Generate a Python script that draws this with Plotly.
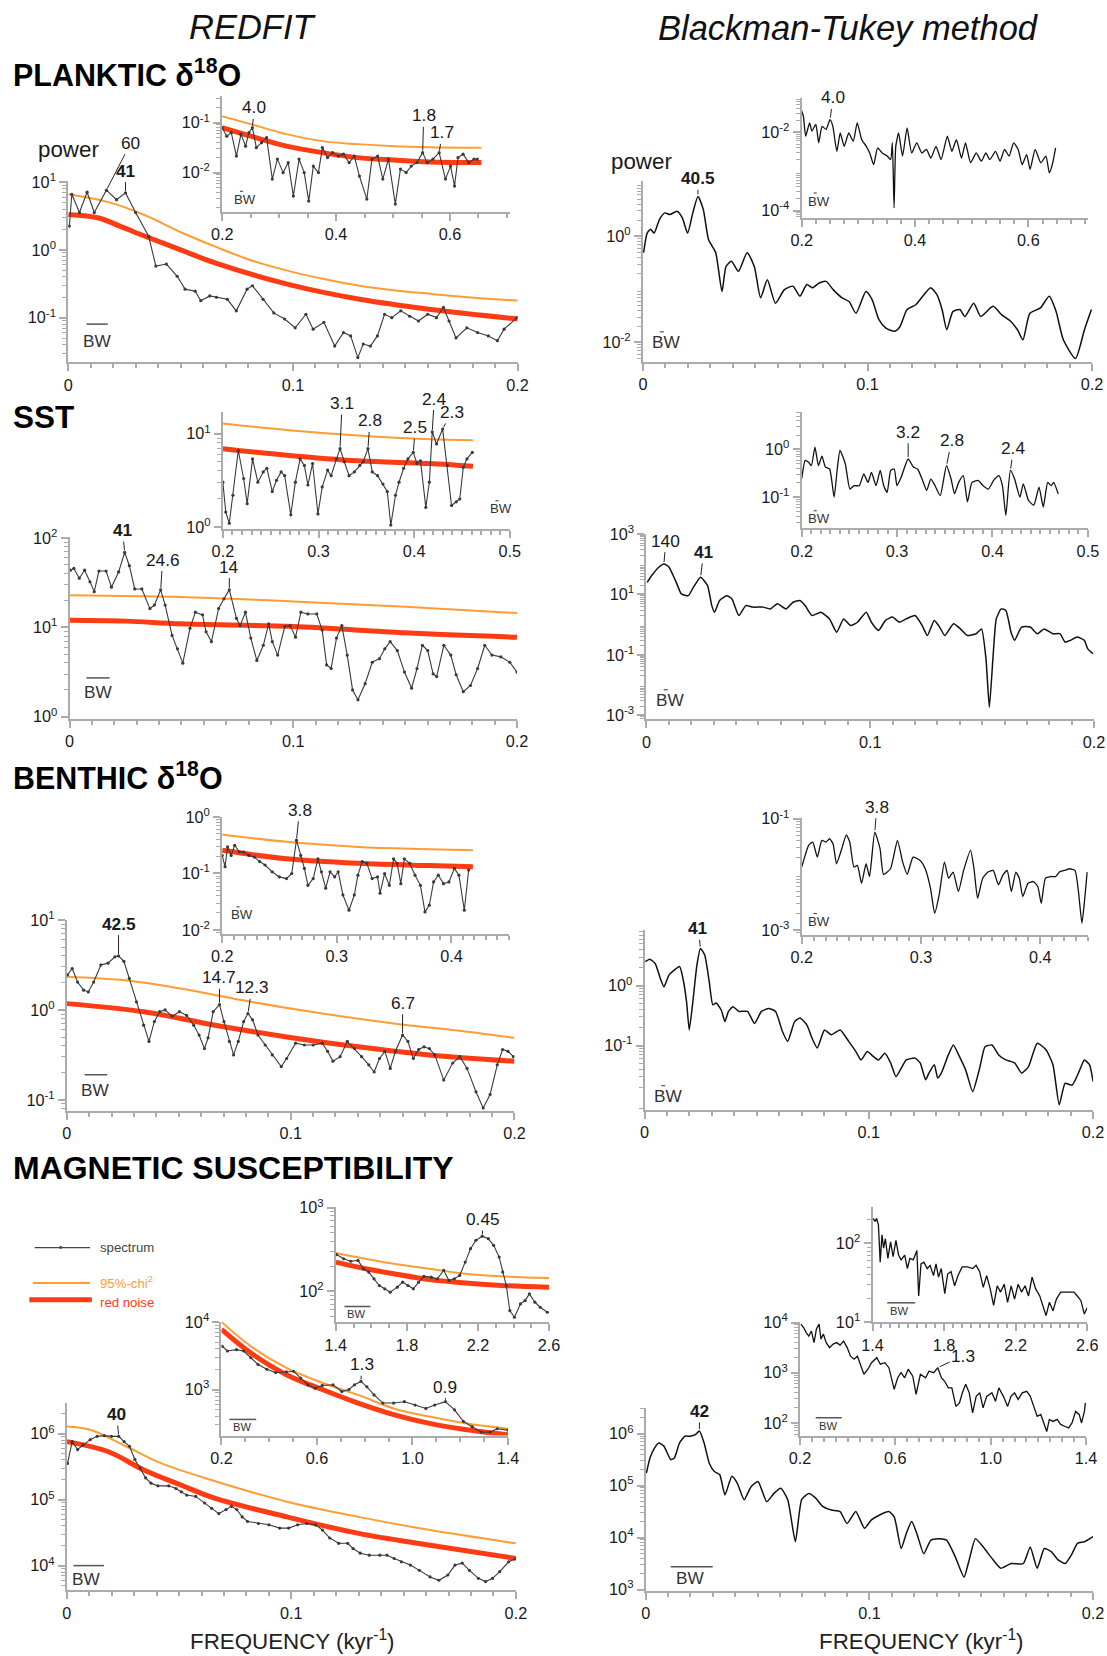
import numpy as np
import plotly.graph_objects as go

# ======================= DATA (frequency in kyr^-1, log10 of power) =======================
# ---- PLANKTIC d18O : REDFIT ----
pl_rf_spec = [(0.0005,0.35),(0.0016,0.82),(0.005,0.55),(0.0084,0.85),(0.0116,0.55),(0.017,0.88),(0.0215,0.74),
              (0.0255,0.84),(0.030,0.55),(0.0358,0.20),(0.039,-0.24),(0.0437,-0.21),(0.0485,-0.39),(0.052,-0.58),
              (0.0565,-0.61),(0.059,-0.75),(0.063,-0.68),(0.066,-0.70),(0.0708,-0.73),(0.0748,-0.90),(0.0796,-0.58),
              (0.082,-0.53),(0.0867,-0.73),(0.0915,-0.93),(0.0963,-1.02),(0.101,-1.15),(0.1058,-0.95),(0.109,-1.17),
              (0.1138,-1.07),(0.1186,-1.42),(0.1225,-1.22),(0.1257,-1.27),(0.1289,-1.59),(0.1313,-1.39),(0.1345,-1.42),
              (0.1376,-1.27),(0.1408,-0.95),(0.144,-1.00),(0.148,-0.90),(0.152,-0.98),(0.1559,-1.05),(0.16,-0.95),
              (0.1639,-1.00),(0.167,-0.85),(0.1695,-1.05),(0.1726,-1.30),(0.1774,-1.15),(0.1822,-1.22),(0.187,-1.27),
              (0.191,-1.34),(0.194,-1.17),(0.1997,-1.00)]
pl_rf_red = [(0.0,0.52),(0.0135,0.47),(0.023,0.35),(0.0342,0.20),(0.05,0.0),(0.066,-0.20),(0.0979,-0.51),
             (0.1297,-0.73),(0.1615,-0.88),(0.2,-1.02)]
pl_rf_chi = [(0.0,0.82),(0.0183,0.70),(0.0342,0.51),(0.0501,0.26),(0.066,0.04),(0.0819,-0.16),(0.0979,-0.31),
             (0.1138,-0.43),(0.1297,-0.53),(0.1456,-0.60),(0.1615,-0.65),(0.1774,-0.70),(0.2,-0.75)]
pl_rf_in_spec = [(0.2,-1.10),(0.208,-1.27),(0.216,-1.2),(0.225,-1.67),(0.233,-1.23),(0.241,-1.47),(0.247,-1.2),
                 (0.253,-1.10),(0.26,-1.5),(0.269,-1.4),(0.278,-1.3),(0.288,-2.13),(0.297,-1.73),(0.307,-2.0),
                 (0.316,-1.8),(0.325,-2.47),(0.335,-1.73),(0.344,-2.0),(0.352,-2.57),(0.36,-1.87),(0.369,-2.0),
                 (0.376,-1.5),(0.385,-1.7),(0.394,-1.6),(0.404,-1.67),(0.413,-1.63),(0.423,-1.8),(0.432,-1.67),
                 (0.441,-2.07),(0.454,-2.53),(0.463,-1.73),(0.473,-1.67),(0.482,-2.13),(0.492,-1.73),(0.504,-2.63),
                 (0.513,-1.93),(0.523,-2.0),(0.532,-1.87),(0.542,-1.8),(0.552,-1.6),(0.56,-1.8),(0.57,-1.73),
                 (0.581,-1.6),(0.592,-2.13),(0.601,-1.87),(0.608,-2.27),(0.614,-1.7),(0.623,-1.63),(0.633,-1.8),
                 (0.642,-1.73),(0.648,-1.73)]
pl_rf_in_red = [(0.2,-1.10),(0.25,-1.27),(0.313,-1.47),(0.376,-1.60),(0.438,-1.70),(0.501,-1.75),(0.564,-1.79),(0.655,-1.80)]
pl_rf_in_chi = [(0.2,-0.87),(0.25,-1.03),(0.313,-1.23),(0.376,-1.37),(0.438,-1.43),(0.501,-1.47),(0.564,-1.49),(0.655,-1.50)]
pl_rf_peaks = [(0.017, "60", False), (0.0255, "41", True)]
pl_rf_in_peaks = [(0.253, "4.0", False), (0.552, "1.8", False), (0.581, "1.7", False)]

# ---- PLANKTIC d18O : Blackman-Tukey ----
pl_bt_spec = [(0.0003,-0.31),(0.0019,0.06),(0.0034,0.13),(0.005,0.06),(0.0073,0.31),(0.0097,0.44),(0.012,0.41),
              (0.0152,0.47),(0.0175,0.35),(0.0199,0.06),(0.0222,0.44),(0.0245,0.75),(0.0269,0.50),(0.0292,-0.06),
              (0.0324,-0.31),(0.0352,-1.04),(0.037,-0.57),(0.0394,-0.47),(0.0425,-0.66),(0.0464,-0.31),(0.0496,-0.57),
              (0.0524,-1.16),(0.0554,-0.82),(0.059,-1.26),(0.0629,-1.01),(0.0668,-0.94),(0.0699,-1.13),(0.073,-0.91),
              (0.0754,-0.97),(0.0785,-0.88),(0.0816,-0.85),(0.0848,-1.01),(0.0887,-1.16),(0.0918,-1.23),(0.0949,-1.45),
              (0.0993,-1.04),(0.102,-1.19),(0.1051,-1.57),(0.1082,-1.73),(0.1121,-1.79),(0.1145,-1.70),(0.1176,-1.38),
              (0.1215,-1.29),(0.1246,-1.13),(0.1281,-0.97),(0.1309,-1.10),(0.1332,-1.38),(0.1353,-1.76),(0.138,-1.42),
              (0.1411,-1.38),(0.1434,-1.51),(0.1473,-1.26),(0.1504,-1.51),(0.1559,-1.32),(0.1598,-1.48),(0.1637,-1.60),
              (0.1668,-1.76),(0.1692,-1.95),(0.1723,-1.45),(0.177,-1.35),(0.1809,-1.13),(0.184,-1.42),(0.1872,-1.95),
              (0.1926,-2.30),(0.1966,-1.76),(0.1997,-1.38)]
pl_bt_in_spec = [(0.2,-1.46),(0.203,-1.59),(0.207,-2.10),(0.214,-1.76),(0.218,-1.97),(0.225,-1.80),(0.23,-2.27),
                 (0.236,-1.85),(0.243,-1.93),(0.25,-1.68),(0.255,-1.85),(0.262,-2.49),(0.268,-2.02),(0.275,-2.36),
                 (0.283,-2.02),(0.291,-2.23),(0.298,-1.76),(0.306,-2.19),(0.314,-2.36),(0.32,-2.53),(0.327,-2.83),
                 (0.334,-2.40),(0.342,-2.53),(0.351,-2.61),(0.357,-2.70),(0.36,-2.27),(0.363,-3.93),(0.366,-2.36),
                 (0.371,-2.02),(0.378,-2.61),(0.386,-1.89),(0.394,-2.53),(0.403,-2.27),(0.412,-2.53),(0.42,-2.44),
                 (0.428,-2.66),(0.437,-2.36),(0.446,-2.70),(0.457,-2.10),(0.465,-2.49),(0.473,-2.19),(0.482,-2.66),
                 (0.489,-2.27),(0.498,-2.78),(0.508,-2.53),(0.517,-2.74),(0.525,-2.53),(0.532,-2.70),(0.542,-2.49),
                 (0.55,-2.74),(0.558,-2.44),(0.566,-2.61),(0.574,-2.27),(0.582,-2.44),(0.589,-2.83),(0.597,-2.57),
                 (0.603,-2.95),(0.612,-2.44),(0.622,-2.78),(0.631,-2.61),(0.637,-3.04),(0.643,-2.78),(0.648,-2.40)]
pl_bt_peaks = [(0.0245, "40.5", True)]
pl_bt_in_peaks = [(0.25, "4.0", False)]

# ---- SST : REDFIT ----
sst_rf_spec = [(0.0003,1.64),(0.0019,1.66),(0.0043,1.55),(0.0067,1.64),(0.0091,1.51),(0.011,1.40),(0.0131,1.63),
               (0.0163,1.63),(0.0187,1.45),(0.0219,1.62),(0.0246,1.84),(0.0267,1.69),(0.0291,1.43),(0.0323,1.43),
               (0.0359,1.21),(0.0379,1.25),(0.0407,1.42),(0.0427,1.25),(0.0458,0.91),(0.0482,0.76),(0.0506,0.60),
               (0.0538,0.99),(0.0562,1.17),(0.0594,1.14),(0.061,0.95),(0.0634,0.84),(0.0666,1.21),(0.069,1.32),
               (0.0714,1.42),(0.0746,1.10),(0.0762,1.02),(0.0786,1.17),(0.081,0.88),(0.0837,0.63),(0.0866,0.80),
               (0.089,1.04),(0.0906,0.84),(0.093,0.69),(0.0962,1.01),(0.0986,1.02),(0.101,0.89),(0.1034,1.17),
               (0.1065,1.15),(0.1105,1.15),(0.1129,0.97),(0.1149,0.58),(0.1169,0.54),(0.1193,0.88),(0.1217,1.02),
               (0.1241,0.69),(0.1265,0.30),(0.1289,0.19),(0.1321,0.37),(0.1353,0.61),(0.1385,0.65),(0.1409,0.76),
               (0.1433,0.84),(0.1465,0.74),(0.1497,0.50),(0.1529,0.32),(0.1553,0.54),(0.1577,0.80),(0.1601,0.74),
               (0.1625,0.48),(0.1641,0.45),(0.1673,0.80),(0.1704,0.69),(0.1728,0.47),(0.176,0.28),(0.1792,0.35),
               (0.1824,0.54),(0.1856,0.80),(0.1888,0.69),(0.1928,0.67),(0.1968,0.61),(0.2,0.50)]
sst_rf_red = [(0.0,1.08),(0.025,1.07),(0.05,1.04),(0.1,1.01),(0.15,0.94),(0.2,0.89)]
sst_rf_chi = [(0.0,1.36),(0.025,1.35),(0.05,1.34),(0.1,1.29),(0.15,1.23),(0.2,1.16)]
sst_rf_in_spec = [(0.2,0.48),(0.203,0.16),(0.2067,0.04),(0.2105,0.34),(0.2161,0.82),(0.2217,0.52),(0.2254,0.25),
                  (0.231,0.73),(0.2366,0.48),(0.2422,0.59),(0.246,0.63),(0.2516,0.38),(0.2561,0.50),(0.2609,0.59),
                  (0.2646,0.55),(0.271,0.13),(0.2758,0.48),(0.2807,0.73),(0.2852,0.66),(0.2889,0.45),(0.2938,0.68),
                  (0.2994,0.14),(0.3039,0.43),(0.3095,0.61),(0.3132,0.55),(0.3188,0.73),(0.3225,0.84),(0.327,0.70),
                  (0.3319,0.55),(0.3375,0.59),(0.3431,0.66),(0.3468,0.70),(0.3517,0.84),(0.3562,0.59),(0.3618,0.55),
                  (0.3674,0.46),(0.3719,0.38),(0.3756,0.02),(0.3805,0.34),(0.3842,0.48),(0.389,0.63),(0.3935,0.73),
                  (0.3991,0.80),(0.4029,0.68),(0.4066,0.71),(0.4122,0.21),(0.4159,0.48),(0.4189,1.02),(0.4234,0.89),
                  (0.4298,1.05),(0.4346,0.66),(0.4391,0.23),(0.444,0.27),(0.4477,0.30),(0.4514,0.64),(0.4552,0.73),
                  (0.4608,0.80)]
sst_rf_in_red = [(0.2,0.84),(0.2665,0.77),(0.3412,0.71),(0.4159,0.68),(0.4615,0.65)]
sst_rf_in_chi = [(0.2,1.11),(0.2665,1.04),(0.3412,0.98),(0.4159,0.94),(0.4615,0.93)]
sst_rf_peaks = [(0.0246, "41", True), (0.0407, "24.6", False), (0.0714, "14", False)]
sst_rf_in_peaks = [(0.3225, "3.1", False), (0.3517, "2.8", False), (0.3991, "2.5", False),
                   (0.4189, "2.4", False), (0.4298, "2.3", False)]

# ---- SST : Blackman-Tukey ----
sst_bt_spec = [(0.0003,1.40),(0.0023,1.62),(0.0055,1.90),(0.0078,2.01),(0.0101,1.90),(0.0133,1.40),(0.0156,1.02),
               (0.0187,0.96),(0.021,1.24),(0.0242,1.57),(0.0273,1.29),(0.0292,0.63),(0.0304,0.41),(0.0327,0.80),
               (0.0359,0.96),(0.0382,0.85),(0.0413,0.30),(0.0444,0.63),(0.0475,0.58),(0.0522,0.58),(0.0553,0.52),
               (0.0585,0.69),(0.0624,0.52),(0.0655,0.74),(0.0686,0.80),(0.0709,0.63),(0.074,0.30),(0.0779,0.41),
               (0.0818,0.19),(0.085,-0.25),(0.0881,0.19),(0.0912,-0.03),(0.0943,0.08),(0.0982,0.41),(0.1005,0.08),
               (0.1037,-0.19),(0.1068,0.14),(0.1099,0.25),(0.113,0.08),(0.1161,0.19),(0.12,0.30),(0.1232,-0.03),
               (0.1255,-0.36),(0.1286,0.14),(0.131,-0.08),(0.1333,-0.36),(0.1372,0.03),(0.1403,-0.14),(0.1434,-0.36),
               (0.1473,-0.30),(0.1497,-0.14),(0.1517,-1.13),(0.1532,-2.73),(0.1548,-1.13),(0.1563,0.19),(0.1585,0.52),
               (0.1606,0.47),(0.1629,-0.25),(0.1645,-0.52),(0.1676,-0.08),(0.1715,-0.08),(0.1746,-0.30),(0.1777,-0.14),
               (0.1816,-0.30),(0.1847,-0.30),(0.1871,-0.58),(0.1894,-0.52),(0.1925,-0.41),(0.1956,-0.52),(0.1972,-0.80),
               (0.1995,-0.96)]
sst_bt_in_spec = [(0.2,-0.62),(0.2037,-0.23),(0.2073,-0.27),(0.2102,-0.34),(0.2139,0.05),(0.2176,-0.34),(0.2212,-0.14),
                  (0.2249,-0.37),(0.2293,-0.41),(0.234,-1.0),(0.2373,-0.41),(0.2402,-0.02),(0.2457,-0.30),(0.2505,-0.83),
                  (0.2549,-0.76),(0.2604,-0.76),(0.2651,-0.51),(0.2695,-0.69),(0.2732,-0.48),(0.2779,-0.76),(0.2823,-0.44),
                  (0.286,-0.76),(0.2896,-0.90),(0.2933,-0.44),(0.297,-0.41),(0.2999,-0.76),(0.3043,-0.58),(0.3116,-0.20),
                  (0.3171,-0.37),(0.3215,-0.41),(0.3262,-0.62),(0.331,-0.86),(0.3354,-0.62),(0.3398,-0.76),(0.3452,-0.97),
                  (0.3518,-0.34),(0.3566,-0.62),(0.3602,-0.93),(0.3646,-0.69),(0.3694,-0.55),(0.3738,-1.10),(0.3785,-0.69),
                  (0.3848,-0.65),(0.3902,-0.76),(0.3957,-0.83),(0.4012,-0.65),(0.4067,-0.55),(0.4104,-0.76),(0.414,-1.38),
                  (0.4188,-0.44),(0.4232,-0.62),(0.4287,-1.0),(0.4323,-0.72),(0.4378,-1.07),(0.4433,-1.17),(0.4488,-0.79),
                  (0.4532,-1.21),(0.4579,-0.69),(0.4616,-0.76),(0.4641,-0.69),(0.4689,-0.93)]
sst_bt_peaks = [(0.0078, "140", False), (0.0242, "41", True)]
sst_bt_in_peaks = [(0.3116, "3.2", False), (0.3518, "2.8", False), (0.4188, "2.4", False)]

# ---- BENTHIC d18O : REDFIT ----
be_rf_spec = [(0.0003,0.39),(0.0024,0.46),(0.0048,0.31),(0.0075,0.22),(0.0096,0.20),(0.012,0.31),(0.0152,0.50),
              (0.0184,0.52),(0.0215,0.59),(0.0231,0.60),(0.0255,0.54),(0.0279,0.35),(0.0311,0.09),(0.0343,-0.17),
              (0.0367,-0.35),(0.0391,-0.13),(0.0415,-0.02),(0.0439,0.0),(0.0471,-0.07),(0.0503,-0.02),(0.0535,-0.06),
              (0.0567,-0.17),(0.0591,-0.28),(0.0615,-0.43),(0.0631,-0.31),(0.0654,-0.02),(0.0682,0.06),(0.0702,-0.13),
              (0.0726,-0.35),(0.0745,-0.50),(0.0766,-0.35),(0.079,-0.13),(0.0809,-0.04),(0.083,-0.11),(0.0854,-0.28),
              (0.0886,-0.39),(0.0918,-0.50),(0.0958,-0.63),(0.0982,-0.54),(0.1022,-0.37),(0.1061,-0.39),(0.1101,-0.39),
              (0.1141,-0.37),(0.1165,-0.46),(0.1189,-0.57),(0.1221,-0.52),(0.1253,-0.35),(0.1285,-0.43),(0.1317,-0.52),
              (0.1349,-0.61),(0.1373,-0.69),(0.1397,-0.54),(0.1421,-0.46),(0.1445,-0.65),(0.1468,-0.46),(0.15,-0.28),
              (0.1524,-0.35),(0.1548,-0.54),(0.1572,-0.44),(0.1596,-0.41),(0.162,-0.43),(0.1644,-0.50),(0.1684,-0.78),
              (0.1724,-0.59),(0.1756,-0.52),(0.1788,-0.65),(0.1828,-0.91),(0.186,-1.09),(0.1891,-0.94),(0.1923,-0.61),
              (0.1947,-0.44),(0.1971,-0.46),(0.1995,-0.52)]
be_rf_red = [(0.0,0.07),(0.0343,-0.02),(0.0662,-0.17),(0.0982,-0.30),(0.1301,-0.41),(0.162,-0.50),(0.2,-0.57)]
be_rf_chi = [(0.0,0.37),(0.026,0.33),(0.0503,0.24),(0.0822,0.09),(0.1141,-0.04),(0.146,-0.15),(0.178,-0.24),(0.2,-0.31)]
be_rf_in_spec = [(0.2,-0.68),(0.2025,-0.88),(0.2047,-0.53),(0.2078,-0.68),(0.2109,-0.50),(0.215,-0.62),(0.2187,-0.62),
                 (0.2234,-0.68),(0.228,-0.71),(0.2327,-0.79),(0.2374,-0.85),(0.2436,-0.97),(0.2498,-1.06),(0.2561,-1.09),
                 (0.2607,-1.0),(0.2648,-0.41),(0.2685,-0.68),(0.2717,-0.91),(0.2748,-1.21),(0.2794,-1.09),(0.2835,-0.74),
                 (0.2866,-0.97),(0.2903,-1.26),(0.2941,-0.97),(0.2981,-1.06),(0.3012,-0.97),(0.3053,-1.38),(0.3106,-1.65),
                 (0.3153,-1.38),(0.3184,-1.03),(0.3221,-0.79),(0.3262,-0.82),(0.3308,-1.09),(0.3355,-1.06),(0.3377,-1.35),
                 (0.3417,-1.0),(0.3458,-1.21),(0.3495,-0.74),(0.3526,-0.82),(0.3558,-1.18),(0.3589,-0.74),(0.3636,-0.82),
                 (0.3682,-1.03),(0.3729,-1.21),(0.3769,-1.68),(0.3807,-1.56),(0.3844,-1.15),(0.3885,-1.03),(0.3931,-1.18),
                 (0.3978,-1.15),(0.4025,-0.91),(0.4065,-1.03),(0.4112,-1.65),(0.415,-0.94)]
be_rf_in_red = [(0.2,-0.59),(0.2561,-0.74),(0.3184,-0.82),(0.3807,-0.86),(0.4187,-0.88)]
be_rf_in_chi = [(0.2,-0.31),(0.2561,-0.44),(0.3184,-0.53),(0.3807,-0.57),(0.4187,-0.59)]
be_rf_peaks = [(0.0231, "42.5", True), (0.0682, "14.7", False), (0.0809, "12.3", False), (0.15, "6.7", False)]
be_rf_in_peaks = [(0.2648, "3.8", False)]

# ---- BENTHIC d18O : Blackman-Tukey ----
be_bt_spec = [(0.0003,0.40),(0.0023,0.44),(0.0047,0.37),(0.007,0.12),(0.0086,-0.02),(0.0109,0.18),(0.0132,0.26),
              (0.0156,0.32),(0.0171,0.12),(0.0187,-0.27),(0.0199,-0.74),(0.0215,-0.27),(0.0233,0.34),(0.0249,0.62),
              (0.0268,0.51),(0.0288,0.07),(0.0304,-0.32),(0.0319,-0.29),(0.0342,-0.41),(0.0358,-0.60),(0.0374,-0.43),
              (0.0394,-0.35),(0.042,-0.43),(0.0459,-0.43),(0.049,-0.63),(0.0521,-0.43),(0.0553,-0.38),(0.0584,-0.43),
              (0.0615,-0.77),(0.0638,-0.93),(0.0669,-0.60),(0.0693,-0.54),(0.0724,-0.66),(0.0747,-0.88),(0.077,-1.04),
              (0.0802,-0.74),(0.0833,-0.82),(0.0872,-0.74),(0.091,-0.93),(0.0942,-1.10),(0.0965,-1.24),(0.0993,-1.10),
              (0.1019,-1.18),(0.1043,-1.24),(0.1071,-1.13),(0.1097,-1.29),(0.1121,-1.52),(0.1144,-1.38),(0.1167,-1.24),
              (0.1206,-1.21),(0.1229,-1.29),(0.1253,-1.57),(0.1268,-1.46),(0.1292,-1.32),(0.1307,-1.54),(0.1323,-1.46),
              (0.1354,-1.16),(0.1377,-0.99),(0.1401,-1.16),(0.1432,-1.41),(0.1463,-1.77),(0.1494,-1.38),(0.1518,-1.02),
              (0.1549,-0.99),(0.158,-1.16),(0.1611,-1.24),(0.165,-1.29),(0.1681,-1.46),(0.1712,-1.35),(0.1751,-0.96),
              (0.179,-1.07),(0.1821,-1.32),(0.1849,-1.99),(0.1875,-1.63),(0.1907,-1.66),(0.1938,-1.43),(0.1961,-1.24),
              (0.1984,-1.32),(0.2,-1.60)]
be_bt_in_spec = [(0.2,-1.87),(0.2029,-1.66),(0.2058,-1.48),(0.2093,-1.42),(0.2131,-1.69),(0.2169,-1.39),(0.2204,-1.42),
                 (0.2234,-1.36),(0.2263,-1.45),(0.2292,-1.81),(0.2336,-1.54),(0.2374,-1.29),(0.2403,-1.42),(0.2438,-1.87),
                 (0.2467,-1.84),(0.2502,-2.16),(0.254,-1.81),(0.2569,-2.04),(0.2613,-1.24),(0.2657,-1.54),(0.2686,-2.0),
                 (0.2745,-1.90),(0.2803,-1.39),(0.2847,-1.78),(0.2885,-2.0),(0.2934,-1.69),(0.2993,-1.75),(0.3036,-1.90),
                 (0.308,-2.25),(0.3115,-2.70),(0.3153,-2.37),(0.3197,-1.78),(0.3232,-2.07),(0.327,-1.96),(0.3314,-2.31),
                 (0.3358,-1.93),(0.3416,-1.57),(0.3445,-1.90),(0.3475,-2.43),(0.3518,-2.07),(0.3562,-1.96),(0.3606,-1.93),
                 (0.365,-2.19),(0.3688,-2.01),(0.3723,-1.93),(0.3758,-2.31),(0.3796,-1.96),(0.3825,-2.07),(0.3854,-2.40),
                 (0.3898,-2.16),(0.3942,-2.13),(0.398,-2.22),(0.4009,-2.52),(0.4044,-2.07),(0.4088,-2.04),(0.4131,-2.04),
                 (0.4161,-1.96),(0.4204,-1.93),(0.4248,-1.90),(0.4292,-1.93),(0.4321,-2.31),(0.435,-2.88),(0.4374,-2.43),
                 (0.4394,-1.96)]
be_bt_peaks = [(0.0249, "41", True)]
be_bt_in_peaks = [(0.2613, "3.8", False)]

# ---- MAGNETIC SUSCEPTIBILITY : REDFIT ----
ms_rf_spec = [(0.0003,5.55),(0.0024,5.88),(0.0048,5.76),(0.0072,5.83),(0.0104,5.91),(0.0135,5.96),(0.0167,5.97),
              (0.0199,5.96),(0.0231,5.96),(0.0255,5.88),(0.0279,5.81),(0.0303,5.61),(0.0327,5.48),(0.0351,5.33),
              (0.0375,5.25),(0.0406,5.21),(0.0454,5.21),(0.0486,5.17),(0.051,5.12),(0.0534,5.07),(0.0574,5.05),
              (0.0614,4.95),(0.0645,4.87),(0.0677,4.79),(0.0709,4.85),(0.0733,4.90),(0.0757,4.85),(0.0781,4.74),
              (0.0805,4.67),(0.0853,4.64),(0.09,4.62),(0.0948,4.57),(0.0988,4.57),(0.1028,4.62),(0.1068,4.64),
              (0.1108,4.62),(0.1139,4.54),(0.1171,4.42),(0.1211,4.34),(0.1251,4.34),(0.1275,4.26),(0.1307,4.19),
              (0.1347,4.16),(0.1394,4.16),(0.1426,4.16),(0.1458,4.11),(0.149,4.06),(0.153,4.01),(0.157,3.93),
              (0.1618,3.83),(0.1657,3.78),(0.1697,3.86),(0.1729,4.01),(0.1761,4.04),(0.1793,3.93),(0.1833,3.81),
              (0.1865,3.76),(0.1896,3.81),(0.1928,3.91),(0.1968,4.06),(0.2,4.11)]
ms_rf_red = [(0.0,5.88),(0.0183,5.73),(0.0343,5.45),(0.0502,5.23),(0.0661,5.02),(0.098,4.74),(0.1299,4.49),
             (0.1618,4.31),(0.2,4.11)]
ms_rf_chi = [(0.0,6.11),(0.0104,6.06),(0.0263,5.81),(0.0422,5.55),(0.0661,5.28),(0.098,4.97),(0.1299,4.74),
             (0.1618,4.54),(0.2,4.34)]
ms_rf_in1_spec = [(0.203,3.64),(0.225,3.57),(0.263,3.59),(0.293,3.57),(0.323,3.47),(0.353,3.37),(0.39,3.30),
                  (0.427,3.25),(0.472,3.26),(0.502,3.27),(0.532,3.17),(0.562,3.07),(0.592,3.02),(0.622,3.06),
                  (0.667,3.07),(0.704,2.97),(0.734,3.0),(0.757,3.07),(0.784,3.12),(0.809,3.04),(0.839,2.92),
                  (0.876,2.80),(0.921,2.80),(0.966,2.82),(1.011,2.77),(1.056,2.72),(1.093,2.77),(1.138,2.82),
                  (1.176,2.70),(1.213,2.53),(1.25,2.45),(1.288,2.37),(1.325,2.37),(1.355,2.42),(1.4,2.40)]
ms_rf_in1_red = [(0.2,3.89),(0.323,3.54),(0.472,3.22),(0.622,3.0),(0.772,2.80),(0.921,2.63),(1.071,2.50),(1.22,2.41),(1.4,2.33)]
ms_rf_in1_chi = [(0.2,4.0),(0.323,3.64),(0.472,3.32),(0.622,3.10),(0.772,2.92),(0.921,2.72),(1.071,2.60),(1.22,2.50),(1.4,2.42)]
ms_rf_in2_spec = [(1.404,2.44),(1.444,2.39),(1.484,2.36),(1.525,2.37),(1.555,2.27),(1.585,2.23),(1.615,2.15),
                  (1.645,2.07),(1.675,2.03),(1.706,1.99),(1.746,2.05),(1.776,2.11),(1.806,2.07),(1.836,2.03),
                  (1.866,2.11),(1.896,2.18),(1.937,2.17),(1.971,2.15),(2.007,2.25),(2.037,2.13),(2.067,2.15),
                  (2.097,2.19),(2.128,2.35),(2.158,2.51),(2.188,2.61),(2.224,2.66),(2.258,2.63),(2.288,2.55),
                  (2.319,2.41),(2.339,2.23),(2.359,2.07),(2.379,1.77),(2.405,1.69),(2.439,1.85),(2.465,1.89),
                  (2.489,1.97),(2.52,1.87),(2.55,1.81),(2.59,1.75)]
ms_rf_in2_red = [(1.4,2.35),(1.525,2.29),(1.726,2.21),(1.927,2.14),(2.128,2.10),(2.329,2.07),(2.6,2.05)]
ms_rf_in2_chi = [(1.4,2.46),(1.726,2.33),(1.927,2.27),(2.128,2.21),(2.329,2.18),(2.6,2.16)]
ms_rf_peaks = [(0.0231, "40", True)]
ms_rf_in1_peaks = [(0.784, "1.3", False), (1.138, "0.9", False)]
ms_rf_in2_peaks = [(2.224, "0.45", False)]

# ---- MAGNETIC SUSCEPTIBILITY : Blackman-Tukey ----
ms_bt_spec = [(0.0003,5.24),(0.0019,5.53),(0.0039,5.72),(0.0058,5.82),(0.0081,5.76),(0.0112,5.50),(0.0128,5.53),
              (0.0151,5.82),(0.0175,5.95),(0.0198,5.95),(0.0222,5.98),(0.024,6.05),(0.0261,5.82),(0.0284,5.43),
              (0.0307,5.27),(0.0331,5.21),(0.0354,4.82),(0.0385,5.18),(0.0409,5.05),(0.044,4.73),(0.0471,4.98),
              (0.0502,5.08),(0.0541,4.69),(0.0573,4.85),(0.0604,4.95),(0.0635,4.73),(0.0669,3.92),(0.0697,4.73),
              (0.0729,4.85),(0.076,4.76),(0.0791,4.60),(0.083,4.53),(0.0869,4.50),(0.09,4.27),(0.0939,4.50),
              (0.0978,4.18),(0.1009,4.34),(0.1048,4.44),(0.1087,4.50),(0.1111,4.40),(0.1142,3.79),(0.1165,4.08),
              (0.1189,4.31),(0.1212,4.08),(0.1243,3.69),(0.1275,3.95),(0.1314,3.98),(0.1345,3.95),(0.1384,3.63),
              (0.1423,3.24),(0.1446,3.57),(0.1474,3.98),(0.1509,3.82),(0.1548,3.60),(0.1587,3.41),(0.1633,3.50),
              (0.1688,3.50),(0.1719,3.82),(0.175,3.41),(0.1782,3.79),(0.1813,3.73),(0.1844,3.57),(0.1875,3.50),
              (0.1906,3.69),(0.193,3.89),(0.1961,3.92),(0.2,4.02)]
ms_bt_in1_spec = [(0.204,3.97),(0.215,3.90),(0.226,3.80),(0.237,3.73),(0.248,3.83),(0.259,3.60),(0.269,3.87),
                  (0.28,3.97),(0.288,3.67),(0.298,3.77),(0.31,3.60),(0.324,3.50),(0.339,3.57),(0.354,3.60),
                  (0.368,3.55),(0.383,3.63),(0.398,3.50),(0.412,3.33),(0.427,3.27),(0.441,3.33),(0.453,3.17),
                  (0.468,2.97),(0.485,3.07),(0.5,3.20),(0.522,3.30),(0.537,3.17),(0.556,3.20),(0.573,3.10),
                  (0.595,2.67),(0.61,2.90),(0.624,3.00),(0.639,2.90),(0.654,3.07),(0.673,2.93),(0.687,2.57),
                  (0.705,2.97),(0.727,2.90),(0.741,3.03),(0.761,3.00),(0.778,3.10),(0.793,2.90),(0.807,2.83),
                  (0.822,2.70),(0.837,2.70),(0.854,2.33),(0.869,2.40),(0.881,2.60),(0.895,2.77),(0.91,2.60),
                  (0.924,2.20),(0.939,2.53),(0.954,2.60),(0.968,2.30),(0.983,2.53),(1.005,2.60),(1.02,2.43),
                  (1.034,2.70),(1.053,2.53),(1.071,2.33),(1.085,2.53),(1.1,2.60),(1.115,2.47),(1.132,2.60),
                  (1.151,2.63),(1.166,2.53),(1.181,2.33),(1.195,2.13),(1.21,2.17),(1.224,2.00),(1.235,1.83),
                  (1.246,2.07),(1.261,2.03),(1.279,2.07),(1.293,1.97),(1.312,1.93),(1.327,1.90),(1.341,2.00),
                  (1.356,2.23),(1.371,2.17),(1.381,2.00),(1.393,2.23),(1.397,2.40)]
ms_bt_in2_spec = [(1.404,2.32),(1.414,2.28),(1.423,2.32),(1.433,2.24),(1.443,1.76),(1.453,2.11),(1.462,1.94),
                  (1.472,2.06),(1.486,1.81),(1.501,2.02),(1.515,1.83),(1.531,2.04),(1.546,1.85),(1.56,1.79),
                  (1.58,1.85),(1.595,1.68),(1.609,1.81),(1.628,1.79),(1.648,1.91),(1.658,1.33),(1.671,1.74),
                  (1.687,1.76),(1.706,1.68),(1.722,1.72),(1.741,1.59),(1.755,1.74),(1.769,1.57),(1.784,1.68),
                  (1.804,1.36),(1.82,1.61),(1.839,1.64),(1.859,1.46),(1.878,1.59),(1.901,1.70),(1.931,1.70),
                  (1.96,1.68),(1.979,1.72),(1.999,1.64),(2.019,1.44),(2.038,1.59),(2.058,1.42),(2.077,1.21),
                  (2.097,1.46),(2.116,1.38),(2.136,1.48),(2.155,1.25),(2.175,1.46),(2.194,1.29),(2.214,1.48),
                  (2.233,1.38),(2.253,1.46),(2.272,1.33),(2.292,1.57),(2.312,1.42),(2.335,1.33),(2.35,1.21),
                  (2.37,1.08),(2.389,1.25),(2.409,1.14),(2.428,1.29),(2.452,1.38),(2.487,1.38),(2.526,1.38),
                  (2.545,1.33),(2.565,1.27),(2.584,1.10),(2.6,1.18)]
ms_bt_peaks = [(0.024, "42", True)]
ms_bt_in1_peaks = [(0.778, "1.3", False)]

# ======================= STYLE =======================
# Layout positions below are given in target-picture pixels; they are mapped to figure pixels
# to allow for the page's 8 px body margin and the capture scaling observed in test renders.
BODY = 8
SX, BX = 0.980, 2.45
SY, BY = 0.990, 3.5
W, H = 1119, 1661
FS = 1.015  # font compensation for the capture scaling
FONT = "Liberation Sans"
RED = "#ff3b14"
ORANGE = "#ff9c33"
AXIS = "#ababab"
TXT = "#1a1a1a"

fig = go.Figure()
layout = {}
annotations = []
shapes = []
count = [0]


def X(t):
    return ((t - BX) / SX - BODY) / W


def Y(t):
    return 1 - ((t - BY) / SY - BODY) / H


def panel(box, xr, yr, xtick0, xdtick, xminor, xfmt, yexp):
    count[0] += 1
    n = count[0]
    sx = "" if n == 1 else str(n)
    x0, x1, y0, y1 = box
    minor_vals = []
    for e in range(int(np.floor(yr[0])) - 1, int(np.ceil(yr[1])) + 1):
        for m in range(2, 10):
            v = m * 10.0 ** e
            if yr[0] <= np.log10(v) <= yr[1]:
                minor_vals.append(v)
    layout["xaxis" + sx] = dict(
        domain=[X(x0), X(x1)], range=[xr[0] - 1e-6, xr[1] + 1e-6], anchor="y" + sx,
        showline=True, linecolor=AXIS, linewidth=2, ticks="outside", tickcolor=AXIS, ticklen=7, tickwidth=1.5,
        tickmode="linear", tick0=xtick0, dtick=xdtick, tickformat=xfmt, showgrid=False, zeroline=False,
        tickfont=dict(size=16 * FS, color=TXT, family=FONT),
        minor=dict(tickmode="linear", tick0=xtick0, dtick=xminor, ticks="outside", ticklen=4, tickwidth=1.5,
                   tickcolor=AXIS, showgrid=False))
    layout["yaxis" + sx] = dict(
        domain=[Y(y1), Y(y0)], type="log", range=list(yr), anchor="x" + sx,
        showline=True, linecolor=AXIS, linewidth=2, ticks="outside", tickcolor=AXIS, ticklen=7, tickwidth=1.5,
        tickmode="array", tickvals=[10.0 ** e for e in yexp], ticktext=["10<sup>%d</sup>" % e for e in yexp],
        showgrid=False, zeroline=False, tickfont=dict(size=16 * FS, color=TXT, family=FONT),
        minor=dict(tickmode="array", tickvals=minor_vals, ticks="outside", ticklen=4, tickwidth=1.2,
                   tickcolor=AXIS, showgrid=False))
    return "x" + sx, "y" + sx


def curve(ax, pairs, color, width, shape="linear", markers=False, smooth=1.0):
    f = [p[0] for p in pairs]
    v = [10.0 ** p[1] for p in pairs]
    kw = dict(x=f, y=v, xaxis=ax[0], yaxis=ax[1], showlegend=False, hoverinfo="skip",
              line=dict(color=color, width=width, shape=shape))
    if shape == "spline":
        kw["line"]["smoothing"] = smooth
    if markers:
        kw["mode"] = "lines+markers"
        kw["marker"] = dict(size=3.2, color=color)
    else:
        kw["mode"] = "lines"
    fig.add_trace(go.Scatter(**kw))


def peaks(ax, pairs, plist, offsets, size=17):
    f = [p[0] for p in pairs]
    lp = [p[1] for p in pairs]
    for (fp, txt, bold), (dx, dy) in zip(plist, offsets):
        yv = float(np.interp(fp, f, lp))
        annotations.append(dict(x=fp, y=yv, xref=ax[0], yref=ax[1], text=("<b>%s</b>" % txt) if bold else txt,
                                showarrow=True, arrowhead=0, arrowwidth=1, arrowcolor="#222",
                                ax=dx / SX, ay=dy / SY, standoff=2,
                                font=dict(size=size * FS, color=TXT, family=FONT)))


def text(px_, py_, s, size=15, color=TXT, anchor="center"):
    annotations.append(dict(x=X(px_), y=Y(py_), xref="paper", yref="paper", text=s, showarrow=False,
                            xanchor=anchor, yanchor="middle", font=dict(size=size * FS, color=color, family=FONT)))


def hline(x0, x1, y, color="#555", width=1.5):
    shapes.append(dict(type="line", xref="paper", yref="paper", x0=X(x0), x1=X(x1), y0=Y(y), y1=Y(y),
                       line=dict(color=color, width=width)))


def bw(cx, cy, bar=None, size=17):
    text(cx, cy, "BW", size=size, color="#333")
    if bar is None:
        hline(cx - size * 0.42, cx - size * 0.18, cy - size * 0.62, "#333", 1)
    else:
        hline(bar[0], bar[1], bar[2], "#555", 1.5)


MAIN = (0, 0.1, 0.01, "")

# ---------------- PLANKTIC ----------------
a = panel((67.5, 516.7, 181.7, 363.3), (0, 0.2), (-1.66, 1.015), *MAIN, [1, 0, -1])
curve(a, pl_rf_chi, ORANGE, 2, "spline")
curve(a, pl_rf_red, RED, 5, "spline")
curve(a, pl_rf_spec, "#3a3a3a", 1.1, markers=True)
peaks(a, pl_rf_spec, pl_rf_peaks, [(24, -47), (0, -22)])
bw(96.4, 342, bar=(85.7, 107.1, 325))

a = panel((221.4, 508.9, 96.7, 212.3), (0.2, 0.705), (-2.78, -0.47), 0.2, 0.2, 0.05, ".1f", [-1, -2])
curve(a, pl_rf_in_chi, ORANGE, 2, "spline")
curve(a, pl_rf_in_red, RED, 5, "spline")
curve(a, pl_rf_in_spec, "#3a3a3a", 1.1, markers=True)
peaks(a, pl_rf_in_spec, pl_rf_in_peaks, [(2, -20), (1, -37), (3, -20)])
bw(244.6, 200, size=13)

a = panel((642.0, 1091.0, 181.7, 362.5), (0, 0.2), (-2.36, 1.04), *MAIN, [0, -2])
curve(a, pl_bt_spec, "#111", 1.5, "spline", smooth=0.6)
peaks(a, pl_bt_spec, pl_bt_peaks, [(0, -18)])
bw(666.0, 343.3)

a = panel((800.7, 1086.8, 98.3, 218.3), (0.2, 0.705), (-4.18, -1.12), 0.2, 0.2, 0.025, ".1f", [-2, -4])
curve(a, pl_bt_in_spec, "#111", 1.3, "spline", smooth=0.5)
peaks(a, pl_bt_in_spec, pl_bt_in_peaks, [(3, -22)])
bw(818.1, 201.7, size=13)

# ---------------- SST ----------------
a = panel((68.9, 516.1, 538.3, 720), (0, 0.2), (-0.02, 2.01), *MAIN, [2, 1, 0])
curve(a, sst_rf_chi, ORANGE, 2, "spline")
curve(a, sst_rf_red, RED, 5, "spline")
curve(a, sst_rf_spec, "#3a3a3a", 1.1, markers=True)
peaks(a, sst_rf_spec, sst_rf_peaks, [(-2, -22), (2, -30), (0, -23)])
bw(98.2, 693.3, bar=(85.7, 108.9, 679.3))

a = panel((222.1, 508.9, 413.3, 530), (0.2, 0.5), (-0.02, 1.23), 0.2, 0.1, 0.01, ".1f", [1, 0])
curve(a, sst_rf_in_chi, ORANGE, 2, "spline")
curve(a, sst_rf_in_red, RED, 5, "spline")
curve(a, sst_rf_in_spec, "#3a3a3a", 1.1, markers=True)
peaks(a, sst_rf_in_spec, sst_rf_in_peaks, [(2, -45), (2, -28), (2, -25), (2, -33), (9, -17)])
bw(500, 510, size=13)

a = panel((645.5, 1093.0, 535, 720.7), (0, 0.2), (-3.13, 3.005), *MAIN, [3, 1, -1, -3])
curve(a, sst_bt_spec, "#111", 1.5, "spline", smooth=0.5)
peaks(a, sst_bt_spec, sst_bt_peaks, [(2, -23), (3, -25)])
bw(669.9, 701.7)

a = panel((800.7, 1086.8, 413.3, 529.3), (0.2, 0.5), (-1.65, 0.78), 0.2, 0.1, 0.01, ".1f", [0, -1])
curve(a, sst_bt_in_spec, "#111", 1.3, "spline", smooth=0.5)
peaks(a, sst_bt_in_spec, sst_bt_in_peaks, [(0, -27), (5, -25), (3, -22)])
bw(818.1, 520, size=13)

# ---------------- BENTHIC ----------------
a = panel((66.1, 513.6, 921.7, 1112.7), (0, 0.2), (-1.12, 1.0), *MAIN, [1, 0, -1])
curve(a, be_rf_chi, ORANGE, 2, "spline")
curve(a, be_rf_red, RED, 5, "spline")
curve(a, be_rf_spec, "#3a3a3a", 1.1, markers=True)
peaks(a, be_rf_spec, be_rf_peaks, [(0, -32), (0, -27), (4, -26), (0, -32)])
bw(94.6, 1091.7, bar=(83.9, 106.4, 1076.7))

a = panel((221.4, 507.9, 818.3, 935.7), (0.2, 0.45), (-2.07, 0.005), 0.2, 0.1, 0.01, ".1f", [0, -1, -2])
curve(a, be_rf_in_chi, ORANGE, 2, "spline")
curve(a, be_rf_in_red, RED, 5, "spline")
curve(a, be_rf_in_spec, "#3a3a3a", 1.1, markers=True)
peaks(a, be_rf_in_spec, be_rf_in_peaks, [(3, -30)])
bw(241.1, 916.7, size=13)

a = panel((643.7, 1092.0, 931.7, 1111.7), (0, 0.2), (-2.07, 0.93), *MAIN, [0, -1])
curve(a, be_bt_spec, "#111", 1.5, "spline", smooth=0.5)
peaks(a, be_bt_spec, be_bt_peaks, [(-2, -20)])
bw(667.4, 1098.3)

a = panel((800.7, 1086.8, 820, 936.7), (0.2, 0.44), (-3.09, -0.995), 0.2, 0.1, 0.01, ".1f", [-1, -3])
curve(a, be_bt_in_spec, "#111", 1.3, "spline", smooth=0.5)
peaks(a, be_bt_in_spec, be_bt_in_peaks, [(2, -25)])
bw(818.1, 923.3, size=13)

# ---------------- MAGNETIC SUSCEPTIBILITY ----------------
a = panel((66.1, 515.0, 1405.1, 1592.9), (0, 0.2), (3.63, 6.47), *MAIN, [6, 5, 4])
curve(a, ms_rf_chi, ORANGE, 2, "spline")
curve(a, ms_rf_red, RED, 5, "spline")
curve(a, ms_rf_spec, "#3a3a3a", 1.1, markers=True)
peaks(a, ms_rf_spec, ms_rf_peaks, [(-2, -22)])
bw(86, 1581.7, bar=(72.7, 103.3, 1568.3))

a = panel((220.7, 507.1, 1323.9, 1438.0), (0.2, 1.4), (2.32, 4.005), 0.2, 0.4, 0.1, ".1f", [4, 3])
curve(a, ms_rf_in1_chi, ORANGE, 2, "spline")
curve(a, ms_rf_in1_red, RED, 5, "spline")
curve(a, ms_rf_in1_spec, "#3a3a3a", 1.1, markers=True)
peaks(a, ms_rf_in1_spec, ms_rf_in1_peaks, [(1, -17), (0, -15)])
bw(241.1, 1429.6, bar=(228.6, 255.4, 1421.9), size=11)

a = panel((335.0, 548.2, 1209.5, 1324.6), (1.4, 2.6), (1.63, 3.005), 1.4, 0.4, 0.1, ".1f", [3, 2])
curve(a, ms_rf_in2_chi, ORANGE, 2, "spline")
curve(a, ms_rf_in2_red, RED, 5, "spline")
curve(a, ms_rf_in2_spec, "#3a3a3a", 1.1, markers=True)
peaks(a, ms_rf_in2_spec, ms_rf_in2_peaks, [(1, -17)])
bw(355.4, 1316.2, bar=(343.6, 369.6, 1308.8), size=11)

a = panel((644.8, 1092.0, 1410.1, 1593.6), (0, 0.2), (2.975, 6.5), *MAIN, [6, 5, 4, 3])
curve(a, ms_bt_spec, "#111", 1.5, "spline", smooth=0.5)
peaks(a, ms_bt_spec, ms_bt_peaks, [(0, -20)])
bw(689.1, 1581.2, bar=(669.9, 711.8, 1569.5))

a = panel((799.0, 1085.0, 1324.6, 1438.0), (0.2, 1.4), (1.75, 4.005), 0.2, 0.4, 0.05, ".1f", [4, 3, 2])
curve(a, ms_bt_in1_spec, "#111", 1.3)
peaks(a, ms_bt_in1_spec, ms_bt_in1_peaks, [(25, -12)])
bw(826.9, 1428.6, bar=(814.7, 840.8, 1420.2), size=11)

a = panel((871.5, 1086.1, 1209.5, 1324.6), (1.4, 2.6), (0.995, 2.46), 1.4, 0.4, 0.05, ".1f", [2, 1])
curve(a, ms_bt_in2_spec, "#111", 1.3)
bw(898.4, 1313.8, bar=(886.2, 914.1, 1305.1), size=11)

# ---------------- titles, labels, legend ----------------
text(252.5, 27, "<i>REDFIT</i>", size=34, color="#111")
text(847.8, 28, "<i>Blackman-Tukey method</i>", size=34, color="#111")
text(10, 73.3, "<b>PLANKTIC δ<sup>18</sup>O</b>", size=30, color="#000", anchor="left")
text(10, 418.3, "<b>SST</b>", size=31, color="#000", anchor="left")
text(10, 777.5, "<b>BENTHIC δ<sup>18</sup>O</b>", size=30, color="#000", anchor="left")
text(10, 1170.3, "<b>MAGNETIC SUSCEPTIBILITY</b>", size=31.5, color="#000", anchor="left")
text(67.5, 150, "power", size=22)
text(640.2, 162, "power", size=22)
text(291.7, 1643, "FREQUENCY (kyr<sup>-1</sup>)", size=22, color="#222")
text(920.7, 1643, "FREQUENCY (kyr<sup>-1</sup>)", size=22, color="#222")

# legend (REDFIT magnetic susceptibility)
hline(33.9, 89.3, 1249.8, "#444", 1.2)
shapes.append(dict(type="circle", xref="paper", yref="paper", x0=X(58.5), x1=X(61.5), y0=Y(1251.3), y1=Y(1248.3),
                   fillcolor="#444", line=dict(color="#444", width=0)))
text(97.1, 1249.8, "spectrum", size=13, color="#444", anchor="left")
hline(32.1, 89.3, 1285.3, ORANGE, 2)
text(97.1, 1285, "95%-chi<sup>2</sup>", size=13, color=ORANGE, anchor="left")
hline(28.6, 91.1, 1302.1, RED, 5)
text(97.1, 1304.4, "red noise", size=13, color=RED, anchor="left")

layout.update(dict(width=W, height=H, margin=dict(l=0, r=0, t=0, b=0), paper_bgcolor="white",
                   plot_bgcolor="rgba(0,0,0,0)", showlegend=False, annotations=annotations, shapes=shapes,
                   font=dict(family=FONT, color=TXT)))
fig.update_layout(**layout)
fig.write_html("out.html")
